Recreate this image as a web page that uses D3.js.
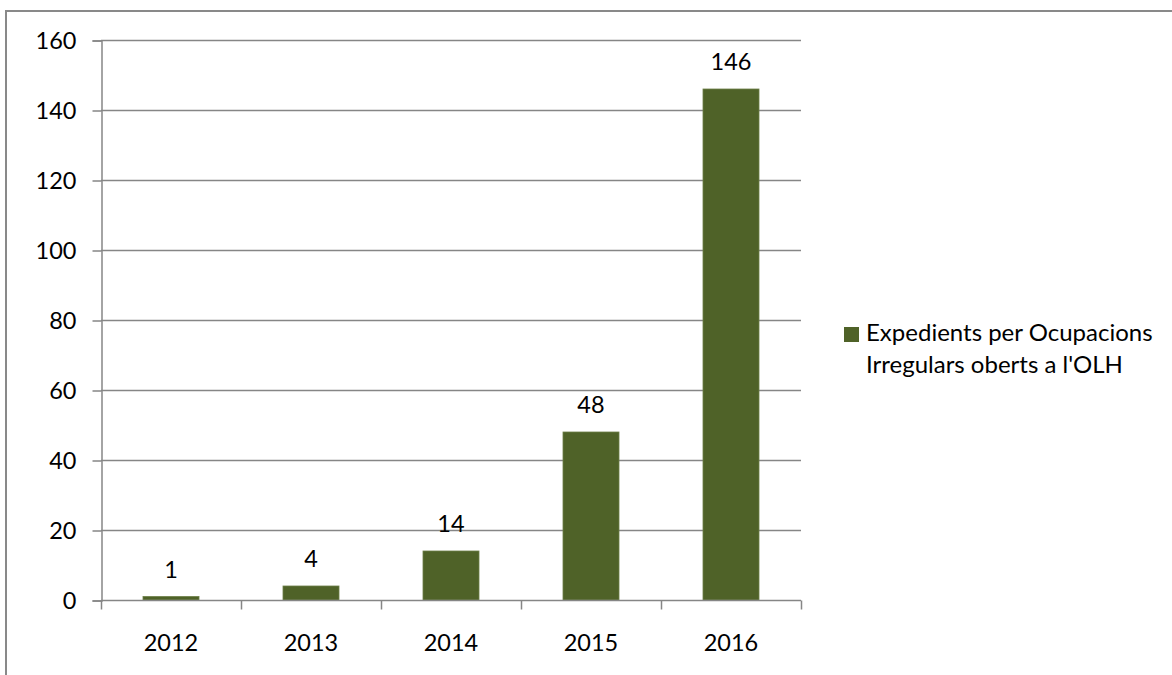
<!DOCTYPE html>
<html>
<head>
<meta charset="utf-8">
<script src="https://cdn.jsdelivr.net/npm/d3@7"></script>
<style>
  body { margin: 0; background: #fff; }
  text { font-family: Lato, "Open Sans", sans-serif; fill: #000; }
</style>
</head>
<body>
<svg id="chart" width="1172" height="675"></svg>
<script>
var years = ["2012", "2013", "2014", "2015", "2016"];
var counts = [1, 4, 14, 48, 146];
var yTicks = [0, 20, 40, 60, 80, 100, 120, 140, 160];
var seriesName = ["Expedients per Ocupacions", "Irregulars oberts a l'OLH"];

var svg = d3.select("#chart");
var margin = {left: 101, right: 371, top: 40, bottom: 75};
var width = 1172 - margin.left - margin.right,
    height = 675 - margin.top - margin.bottom;

var barColor = "#4f6228";
var gridColor = "#868686";
var fontSize = 23.5;

// outer frame
svg.append("rect")
    .attr("x", 6).attr("y", 11)
    .attr("width", 1180).attr("height", 700)
    .attr("fill", "none").attr("stroke", "#898989").attr("stroke-width", 2);

var x = d3.scaleBand().domain(years).range([0, width]).paddingInner(0.6).paddingOuter(0.3);
var y = d3.scaleLinear().domain([0, 160]).range([height, 0]);

var g = svg.append("g").attr("transform", "translate(" + margin.left + "," + margin.top + ")");

// gridlines
g.selectAll(".grid").data(yTicks.slice(1)).enter().append("line")
    .attr("x1", 0).attr("x2", width)
    .attr("y1", d => Math.round(y(d)) + 0.5).attr("y2", d => Math.round(y(d)) + 0.5)
    .attr("stroke", gridColor).attr("stroke-width", 1.5);

// y axis
var yAx = g.append("g").attr("transform", "translate(0.5,0.5)")
    .call(d3.axisLeft(y).tickValues(yTicks).tickSize(9).tickPadding(16));
yAx.select(".domain").attr("stroke", gridColor).attr("stroke-width", 1.5);
yAx.selectAll(".tick line").attr("stroke", gridColor).attr("stroke-width", 1.5);
yAx.selectAll("text").attr("font-size", fontSize).attr("font-family", "Lato, sans-serif");

// bars
g.selectAll(".bar").data(counts).enter().append("rect")
    .attr("x", (d, i) => x(years[i]))
    .attr("y", d => y(d))
    .attr("width", x.bandwidth())
    .attr("height", d => height - y(d))
    .attr("fill", barColor)
    .attr("stroke", "#6d7f48").attr("stroke-width", 0.8);

// value labels
g.selectAll(".lbl").data(counts).enter().append("text")
    .attr("x", (d, i) => x(years[i]) + x.bandwidth() / 2)
    .attr("y", d => y(d) - 19)
    .attr("text-anchor", "middle")
    .attr("font-size", fontSize)
    .text(d => d);

// x axis
var xAx = g.append("g").attr("transform", "translate(0," + (height + 0.5) + ")");
xAx.append("line").attr("x1", 0).attr("x2", width).attr("stroke", gridColor).attr("stroke-width", 1.5);
var bounds = d3.range(years.length + 1).map(i => i * x.step());
xAx.selectAll(".xt").data(bounds).enter().append("line")
    .attr("x1", d => Math.round(d) + 0.5).attr("x2", d => Math.round(d) + 0.5)
    .attr("y1", 0).attr("y2", 9)
    .attr("stroke", gridColor).attr("stroke-width", 1.5);
xAx.selectAll(".xl").data(years).enter().append("text")
    .attr("x", d => x(d) + x.bandwidth() / 2)
    .attr("y", 50)
    .attr("text-anchor", "middle")
    .attr("font-size", fontSize)
    .text(d => d);

// legend
var lg = svg.append("g").attr("transform", "translate(844,327)");
lg.append("rect").attr("width", 15).attr("height", 15).attr("fill", barColor);
lg.selectAll("text").data(seriesName).enter().append("text")
    .attr("x", 22).attr("y", (d, i) => 14 + i * 32)
    .attr("font-size", 24)
    .text(d => d);
</script>
</body>
</html>
